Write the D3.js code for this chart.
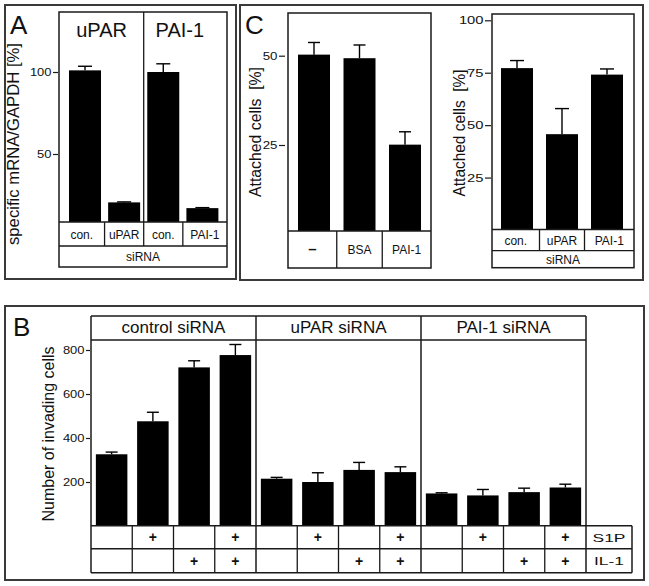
<!DOCTYPE html>
<html><head><meta charset="utf-8">
<script src="https://cdn.jsdelivr.net/npm/d3@7"></script>
<style>
body{margin:0;background:#fff}
svg{display:block}
text{font-family:"Liberation Sans",Arial,Helvetica,sans-serif;fill:#111}
</style>
</head><body>
<svg id="chart" width="649" height="586"></svg>
<script>
// ---------- DATA ----------
const aGroups = ["uPAR", "PAI-1"];
const aCategories = ["con.", "uPAR", "con.", "PAI-1"];
const aValues = [101, 20.5, 100, 17];
const aErrors = [2.5, 0.3, 5, 0.3];
const aTicks = [50, 100];
const aRowLabel = "siRNA";
const aYTitle = "specific mRNA/GAPDH [%]";

const c1Categories = ["\u2013", "BSA", "PAI-1"];
const c1Values = [50.3, 49.3, 25.1];
const c1Errors = [3.4, 3.7, 3.6];
const c1Ticks = [25, 50];

const c2Categories = ["con.", "uPAR", "PAI-1"];
const c2Values = [77.2, 45.7, 74.1];
const c2Errors = [3.6, 12.2, 2.7];
const c2Ticks = [25, 50, 75, 100];
const c2RowLabel = "siRNA";
const cYTitle = "Attached cells\u00a0 [%]";

const bGroups = ["control siRNA", "uPAR siRNA", "PAI-1 siRNA"];
const bValues = [326, 476, 721, 777, 215, 200, 255, 245, 148, 139, 154, 175];
const bErrors = [10, 41, 30, 48, 6, 42, 34, 24, 3, 27, 18, 15];
const bS1P = ["", "+", "", "+", "", "+", "", "+", "", "+", "", "+"];
const bIL1 = ["", "", "+", "+", "", "", "+", "+", "", "", "+", "+"];
const bRowLabels = ["S1P", "IL-1"];
const bTicks = [200, 400, 600, 800];
const bYTitle = "Number of invading cells";

// ---------- HELPERS ----------
const svg = d3.select("#chart");
const LINE = "#1a1a1a";
const FRAME = "#3a3a3a";

function centeredBand(n, c0, cN, bw) {
  const step = (cN - c0) / (n - 1);
  const pi = 1 - bw / step;
  return d3.scaleBand().domain(d3.range(n)).range([c0 - step / 2, cN + step / 2])
    .paddingInner(pi).paddingOuter(pi / 2);
}
function hline(g, x1, x2, y, w) {
  g.append("line").attr("x1", x1).attr("x2", x2).attr("y1", y).attr("y2", y)
    .attr("stroke", LINE).attr("stroke-width", w || 1.3);
}
function vline(g, x, y1, y2, w) {
  g.append("line").attr("x1", x).attr("x2", x).attr("y1", y1).attr("y2", y2)
    .attr("stroke", LINE).attr("stroke-width", w || 1.3);
}
function frame(x, y, w, h) {
  svg.append("rect").attr("x", x).attr("y", y).attr("width", w).attr("height", h)
    .attr("fill", "none").attr("stroke", FRAME).attr("stroke-width", 2);
}
function panelLetter(t, x, y) {
  svg.append("text").attr("x", x).attr("y", y).attr("font-size", 26).text(t);
}
function bars(g, xPos, bw, y, values, errors, baseline, cap) {
  const idx = d3.range(values.length);
  g.selectAll(null).data(idx).join("rect")
    .attr("x", i => xPos(i)).attr("width", bw)
    .attr("y", i => y(values[i])).attr("height", i => baseline - y(values[i]))
    .attr("fill", "#000");
  g.selectAll(null).data(idx).join("line")
    .attr("x1", i => xPos(i) + bw / 2).attr("x2", i => xPos(i) + bw / 2)
    .attr("y1", i => y(values[i])).attr("y2", i => y(values[i] + errors[i]))
    .attr("stroke", "#000").attr("stroke-width", 1.4);
  g.selectAll(null).data(idx).join("line")
    .attr("x1", i => xPos(i) + bw / 2 - cap / 2).attr("x2", i => xPos(i) + bw / 2 + cap / 2)
    .attr("y1", i => y(values[i] + errors[i])).attr("y2", i => y(values[i] + errors[i]))
    .attr("stroke", "#000").attr("stroke-width", 1.4);
}
function yAxis(x0, y, ticks, size, fs, cw) {
  const ax = svg.append("g").attr("transform", `translate(${x0},0)`)
    .call(d3.axisLeft(y).tickValues(ticks).tickSize(size).tickPadding(1.5));
  ax.select(".domain").remove();
  ax.selectAll(".tick line").attr("stroke", LINE).attr("stroke-width", 1.2);
  ax.selectAll(".tick text").attr("font-family", "'Liberation Sans',Arial,sans-serif")
    .attr("font-size", fs).attr("fill", "#111")
    .each(function () {
      const t = d3.select(this);
      t.attr("textLength", t.text().length * cw).attr("lengthAdjust", "spacingAndGlyphs");
    });
}
function yTitle(t, x, y, fs, len) {
  svg.append("text").attr("transform", `translate(${x},${y}) rotate(-90)`)
    .attr("text-anchor", "middle").attr("dy", "0.35em").attr("font-size", fs)
    .attr("textLength", len).attr("lengthAdjust", "spacingAndGlyphs").text(t);
}
function cellText(g, t, x, y, fs, opts) {
  const el = g.append("text").attr("x", x).attr("y", y).attr("text-anchor", "middle")
    .attr("dy", "0.36em").attr("font-size", fs).text(t);
  if (opts && opts.bold) el.attr("font-weight", "bold");
  if (opts && opts.len) el.attr("textLength", opts.len).attr("lengthAdjust", "spacingAndGlyphs");
  return el;
}

// ---------- PANEL A ----------
frame(5, 5, 231, 274);
panelLetter("A", 10, 34);
{
  const g = svg.append("g");
  const L = 59, R = 227, T = 12, base = 222, r1 = 246, r2 = 267;
  const y = d3.scaleLinear().domain([0, 100]).range([236, 72]);
  const x = centeredBand(aValues.length, 85, 202.4, 32);
  const bw = x.bandwidth(), step = x.step();
  bars(g, x, bw, y, aValues, aErrors, base, 14);
  g.append("rect").attr("x", L).attr("y", T).attr("width", R - L).attr("height", r2 - T)
    .attr("fill", "none").attr("stroke", LINE).attr("stroke-width", 1.5);
  hline(g, L, R, base); hline(g, L, R, r1);
  d3.range(aCategories.length - 1).forEach(i => {
    const bx = x(i) + bw / 2 + step / 2;
    vline(g, bx, i === 1 ? T : base, r1);
  });
  aCategories.forEach((c, i) => {
    const left = i === 0 ? L : x(i - 1) + bw / 2 + step / 2;
    const right = i === aCategories.length - 1 ? R : x(i) + bw / 2 + step / 2;
    cellText(g, c, (left + right) / 2, (base + r1) / 2 + 0.5, 12);
  });
  cellText(g, aRowLabel, (L + R) / 2, (r1 + r2) / 2 + 0.5, 12);
  aGroups.forEach((grp, k) => {
    const cx = (x(2 * k) + x(2 * k + 1) + bw) / 2 - 3;
    g.append("text").attr("x", cx).attr("y", 37).attr("text-anchor", "middle")
      .attr("font-size", 20).text(grp);
  });
  yAxis(58, y, aTicks, 5, 10.5, 7.2);
  yTitle(aYTitle, 13, 144, 16.5, 202);
}

// ---------- PANEL C ----------
frame(240, 5, 403, 275);
panelLetter("C", 245, 34);
{
  const g = svg.append("g");
  const L = 288, R = 431, T = 13, base = 231, r1 = 268;
  const y = d3.scaleLinear().domain([0, 50]).range([234.3, 55.7]);
  const x = centeredBand(c1Values.length, 314, 405, 32);
  const bw = x.bandwidth(), step = x.step();
  bars(g, x, bw, y, c1Values, c1Errors, base, 12);
  g.append("rect").attr("x", L).attr("y", T).attr("width", R - L).attr("height", r1 - T)
    .attr("fill", "none").attr("stroke", LINE).attr("stroke-width", 1.5);
  hline(g, L, R, base);
  d3.range(c1Categories.length - 1).forEach(i => vline(g, x(i) + bw / 2 + step / 2, base, r1));
  c1Categories.forEach((c, i) => {
    const left = i === 0 ? L : x(i - 1) + bw / 2 + step / 2;
    const right = i === c1Categories.length - 1 ? R : x(i) + bw / 2 + step / 2;
    if (i === 0) cellText(g, c, (left + right) / 2, (base + r1) / 2 - 1, 15, {bold: true});
    else cellText(g, c, (left + right) / 2, (base + r1) / 2 + 0.5, 12);
  });
  yAxis(285, y, c1Ticks, 6, 10.5, 7.4);
  yTitle(cYTitle, 255, 132, 16.5, 130);
}
{
  const g = svg.append("g");
  const L = 492, R = 634, T = 14, base = 229.5, r1 = 250.7, r2 = 267.7;
  const y = d3.scaleLinear().domain([0, 100]).range([230, 20.3]);
  const x = centeredBand(c2Values.length, 517, 607, 32);
  const bw = x.bandwidth(), step = x.step();
  bars(g, x, bw, y, c2Values, c2Errors, base, 14);
  g.append("rect").attr("x", L).attr("y", T).attr("width", R - L).attr("height", r2 - T)
    .attr("fill", "none").attr("stroke", LINE).attr("stroke-width", 1.5);
  hline(g, L, R, base); hline(g, L, R, r1);
  d3.range(c2Categories.length - 1).forEach(i => vline(g, x(i) + bw / 2 + step / 2, base, r1));
  c2Categories.forEach((c, i) => {
    const left = i === 0 ? L : x(i - 1) + bw / 2 + step / 2;
    const right = i === c2Categories.length - 1 ? R : x(i) + bw / 2 + step / 2;
    cellText(g, c, (left + right) / 2, (base + r1) / 2 + 0.5, 12);
  });
  cellText(g, c2RowLabel, (L + R) / 2, (r1 + r2) / 2 + 0.5, 12);
  yAxis(491, y, c2Ticks, 6, 11, 8.2);
  yTitle(cYTitle, 459, 133, 16.5, 127);
}

// ---------- PANEL B ----------
frame(5, 306, 639, 274);
panelLetter("B", 13, 336);
{
  const g = svg.append("g");
  const L = 91, R = 586, RL = 632, T = 316, hB = 340, base = 525.7, r1 = 548.7, r2 = 572.7;
  const y = d3.scaleLinear().domain([0, 800]).range([526, 350]);
  const nPer = bValues.length / bGroups.length;
  const gx = d3.scaleBand().domain(d3.range(bGroups.length)).range([L, R]);
  const ix = d3.scaleBand().domain(d3.range(nPer)).range([0, gx.bandwidth()]).paddingInner(0.236).paddingOuter(0.118);
  const bw = ix.bandwidth();
  const xPos = i => gx(Math.floor(i / nPer)) + ix(i % nPer);
  bars(g, xPos, bw, y, bValues, bErrors, base, 12);
  const cellW = gx.bandwidth() / nPer;
  hline(g, L, R, T, 1.5); hline(g, L, R, hB, 1.5);
  hline(g, L, RL, base, 1.5); hline(g, L, RL, r1, 1.5); hline(g, L, RL, r2, 1.5);
  bGroups.forEach((grp, k) => {
    vline(g, gx(k), T, r2, 1.5);
    g.append("text").attr("x", gx(k) + gx.bandwidth() / 2).attr("y", 333)
      .attr("text-anchor", "middle").attr("font-size", 17).text(grp);
  });
  vline(g, R, T, r2, 1.5);
  vline(g, RL, base, r2, 1.5);
  d3.range(bValues.length).forEach(i => {
    const k = Math.floor(i / nPer), j = i % nPer;
    if (j > 0) vline(g, gx(k) + j * cellW, base, r2);
    const cx = gx(k) + (j + 0.5) * cellW;
    if (bS1P[i]) cellText(g, bS1P[i], cx, (base + r1) / 2, 14, {bold: true});
    if (bIL1[i]) cellText(g, bIL1[i], cx, (r1 + r2) / 2, 14, {bold: true});
  });
  cellText(g, bRowLabels[0], (R + RL) / 2, (base + r1) / 2 + 0.5, 11.5, {len: 33});
  cellText(g, bRowLabels[1], (R + RL) / 2, (r1 + r2) / 2 + 0.5, 11.5, {len: 30});
  yAxis(90, y, bTicks, 4, 10.5, 7.2);
  yTitle(bYTitle, 48, 434, 16.5, 175);
}
</script>
</body></html>
